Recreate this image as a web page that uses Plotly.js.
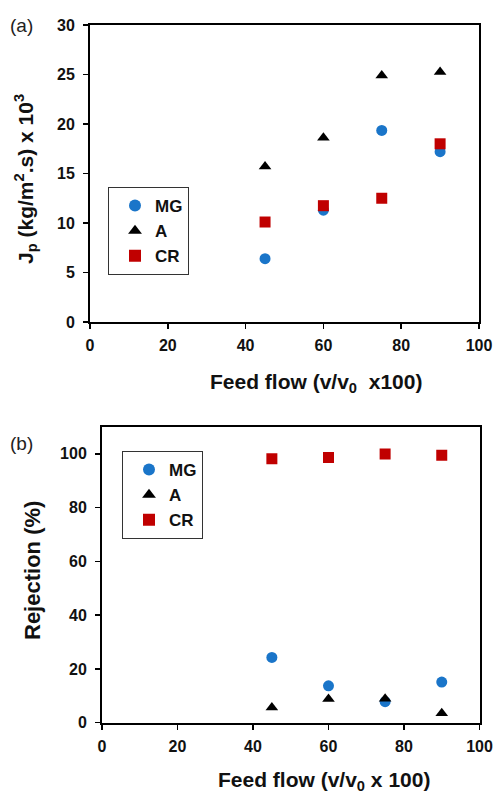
<!DOCTYPE html>
<html>
<head>
<meta charset="utf-8">
<script src="https://cdn.plot.ly/plotly-3.0.1.min.js"></script>
<style>html,body{margin:0;padding:0;background:#fff;}#chart{width:496px;height:796px;}</style>
</head>
<body>
<div id="chart"></div>
<script>
// Feed flow (v/v0 x100)
var feedFlow = [45, 60, 75, 90];

// (a) Permeate flux Jp (kg/m2.s) x 10^3
var fluxMG = [6.4, 11.3, 19.35, 17.2];
var fluxA  = [15.7, 18.6, 24.9, 25.25];
var fluxCR = [10.1, 11.75, 12.5, 18.0];

// (b) Rejection (%)
var rejMG = [24.3, 13.7, 7.8, 15.1];
var rejA  = [5.7, 8.8, 8.9, 3.5];
var rejCR = [98.2, 98.7, 100.0, 99.5];

var seriesNames = ['MG', 'A', 'CR'];
var colors = {MG: '#1a75c9', A: '#000000', CR: '#c00000'};
var symbols = {MG: 'circle', A: 'triangle-up', CR: 'square'};

var xTicks = [0, 20, 40, 60, 80, 100];
var yTicksA = [0, 5, 10, 15, 20, 25, 30];
var yTicksB = [0, 20, 40, 60, 80, 100];

var FONT = 'Liberation Sans, Arial, sans-serif';

function bold(arr) { return arr.map(function (v) { return '<b>' + v + '</b>'; }); }

function tr(name, x, y, xa, ya, leg) {
  return {
    type: 'scatter', mode: 'markers', name: '<b>' + name + '</b>',
    x: x, y: y, xaxis: xa, yaxis: ya, legend: leg,
    marker: {symbol: symbols[name], color: colors[name], size: 11, line: {width: 0}},
    hoverinfo: 'skip'
  };
}

var data = [
  tr('MG', feedFlow, fluxMG, 'x', 'y', 'legend'),
  tr('A', feedFlow, fluxA, 'x', 'y', 'legend'),
  tr('CR', feedFlow, fluxCR, 'x', 'y', 'legend'),
  tr('MG', feedFlow, rejMG, 'x2', 'y2', 'legend2'),
  tr('A', feedFlow, rejA, 'x2', 'y2', 'legend2'),
  tr('CR', feedFlow, rejCR, 'x2', 'y2', 'legend2')
];

var W = 496, H = 796;
function px(v) { return v / W; }
function py(v) { return (H - v) / H; }

var axBase = {
  showline: true, mirror: true, linecolor: '#000', linewidth: 2,
  ticks: 'outside', ticklen: 5, tickwidth: 1.5, tickcolor: '#000',
  showgrid: false, zeroline: false,
  tickfont: {family: FONT, size: 16, color: '#111'},
  fixedrange: true
};

function ax(extra) { return Object.assign({}, axBase, extra); }

var legBase = {
  xref: 'paper', yref: 'paper', xanchor: 'left', yanchor: 'top',
  bgcolor: '#fff', bordercolor: '#333', borderwidth: 1,
  font: {family: FONT, size: 17, color: '#111'},
  itemsizing: 'constant', tracegroupgap: 0, indentation: 6,
  entrywidth: 84, entrywidthmode: 'pixels'
};

var layout = {
  width: W, height: H,
  margin: {l: 0, r: 0, t: 0, b: 0},
  paper_bgcolor: '#fff', plot_bgcolor: '#fff',
  showlegend: true,
  xaxis: ax({domain: [px(90), px(479)], range: [0, 100], tickvals: xTicks, ticktext: bold(xTicks), anchor: 'y', ticklabelstandoff: 3}),
  yaxis: ax({domain: [py(322), py(25)], range: [0, 30], tickvals: yTicksA, ticktext: bold(yTicksA), anchor: 'x', ticklabelstandoff: 5}),
  xaxis2: ax({domain: [px(102), px(479.5)], range: [0, 100], tickvals: xTicks, ticktext: bold(xTicks), anchor: 'y2', ticklabelstandoff: 3}),
  yaxis2: ax({domain: [py(722.7), py(427)], range: [0, 110], tickvals: yTicksB, ticktext: bold(yTicksB), anchor: 'x2', ticklabelstandoff: 5}),
  legend: Object.assign({}, legBase, {x: px(108), y: py(187)}),
  legend2: Object.assign({}, legBase, {x: px(122), y: py(451)}),
  annotations: [
    {text: '(a)', x: px(8), y: py(26), xref: 'paper', yref: 'paper', xanchor: 'left', yanchor: 'middle',
     showarrow: false, font: {family: FONT, size: 19, color: '#222'}},
    {text: '(b)', x: px(8), y: py(443), xref: 'paper', yref: 'paper', xanchor: 'left', yanchor: 'middle',
     showarrow: false, font: {family: FONT, size: 19, color: '#222'}},
    {text: '<b>J<sub>p</sub> (kg/m<sup>2</sup>.s) x 10<sup>3</sup></b>', x: px(25), y: py(179), xref: 'paper', yref: 'paper',
     xanchor: 'center', yanchor: 'middle', textangle: -90, showarrow: false,
     font: {family: FONT, size: 21, color: '#111'}},
    {text: '<b>Feed flow (v/v<sub>0</sub>  x100)</b>', x: px(316), y: py(383), xref: 'paper', yref: 'paper',
     xanchor: 'center', yanchor: 'middle', showarrow: false,
     font: {family: FONT, size: 21, color: '#111'}},
    {text: '<b>Rejection (%)</b>', x: px(32), y: py(571), xref: 'paper', yref: 'paper',
     xanchor: 'center', yanchor: 'middle', textangle: -90, showarrow: false,
     font: {family: FONT, size: 22, color: '#111'}},
    {text: '<b>Feed flow (v/v<sub>0</sub> x 100)</b>', x: px(324), y: py(781), xref: 'paper', yref: 'paper',
     xanchor: 'center', yanchor: 'middle', showarrow: false,
     font: {family: FONT, size: 21, color: '#111'}}
  ]
};

Plotly.newPlot('chart', data, layout, {staticPlot: true, displayModeBar: false});
</script>
</body>
</html>
